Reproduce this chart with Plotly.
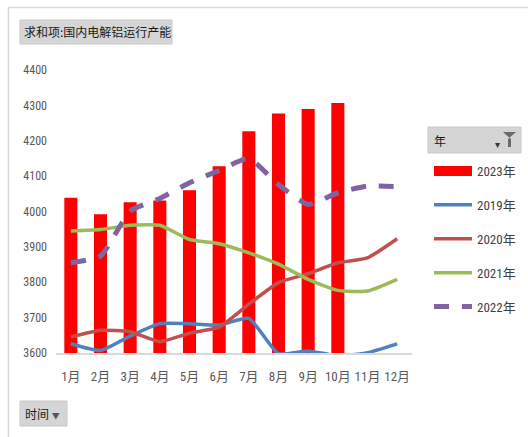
import plotly.graph_objects as go

months = ["1月", "2月", "3月", "4月", "5月", "6月", "7月", "8月", "9月", "10月", "11月", "12月"]
y2023 = [4039, 3992, 4026, 4031, 4060, 4128, 4227, 4277, 4290, 4307, None, None]
y2019 = [3626, 3607, 3648, 3683, 3683, 3679, 3698, 3598, 3606, 3592, 3601, 3626]
y2020 = [3645, 3664, 3660, 3632, 3656, 3673, 3738, 3799, 3824, 3855, 3869, 3923]
y2021 = [3945, 3949, 3961, 3961, 3921, 3909, 3883, 3851, 3808, 3777, 3775, 3808]
y2022 = [3855, 3874, 4001, 4037, 4081, 4116, 4150, 4076, 4020, 4053, 4072, 4070]
y_ticks = [3600, 3700, 3800, 3900, 4000, 4100, 4200, 4300, 4400]

W, H = 528, 437
L, R, T, B = 56, 116, 70, 84
PW, PH = W - L - R, H - T - B


def px(x):
    return (x - L) / PW


def py(y):
    return (H - B - y) / PH


num_font = "Liberation Sans Narrow, Roboto Condensed, Noto Sans CJK SC, sans-serif"
cjk_font = "Noto Sans CJK SC, sans-serif"

fig = go.Figure()
fig.add_trace(go.Bar(x=months, y=y2023, name="2023年", marker=dict(color="#ff0000", line=dict(width=0)),
                     showlegend=False, legendgroup="a"))
# legend entry for the bar series (wide red block like the original)
fig.add_trace(go.Scatter(x=[None], y=[None], name="2023年", mode="lines",
                         line=dict(color="#ff0000", width=11), legendgroup="a", legendrank=1))
fig.add_trace(go.Scatter(x=months, y=y2019, name="2019年", mode="lines",
                         line=dict(color="#4f81bd", width=3.5, shape="spline", smoothing=0.5),
                         legendgroup="b", legendrank=2))
fig.add_trace(go.Scatter(x=months, y=y2020, name="2020年", mode="lines",
                         line=dict(color="#c0504d", width=3.5, shape="spline", smoothing=0.5),
                         legendgroup="c", legendrank=3))
fig.add_trace(go.Scatter(x=months, y=y2021, name="2021年", mode="lines",
                         line=dict(color="#9bbb59", width=3.5, shape="spline", smoothing=0.5),
                         legendgroup="d", legendrank=4))
fig.add_trace(go.Scatter(x=months, y=y2022, name="2022年", mode="lines",
                         line=dict(color="#8064a2", width=5, dash="15px,13px", shape="spline", smoothing=0.5),
                         legendgroup="e", legendrank=5))

shapes = [
    # outer borders (top and left)
    dict(type="line", xref="paper", yref="paper", x0=px(8), x1=px(528), y0=py(7.5), y1=py(7.5),
         line=dict(color="#d9d9d9", width=1.5)),
    dict(type="line", xref="paper", yref="paper", x0=px(8.5), x1=px(8.5), y0=py(7), y1=py(437),
         line=dict(color="#d9d9d9", width=1.5)),
    # title button
    dict(type="rect", xref="paper", yref="paper", x0=px(20), x1=px(172), y0=py(20), y1=py(44),
         fillcolor="#d5d5d5", line=dict(color="#c8c8c8", width=1), layer="below"),
    # time button
    dict(type="rect", xref="paper", yref="paper", x0=px(20), x1=px(67), y0=py(401), y1=py(426),
         fillcolor="#d5d5d5", line=dict(color="#c8c8c8", width=1), layer="below"),
    # legend header
    dict(type="rect", xref="paper", yref="paper", x0=px(428), x1=px(521), y0=py(127), y1=py(153),
         fillcolor="#d5d5d5", line=dict(color="#c8c8c8", width=1), layer="below"),
    # funnel icon
    dict(type="path", xref="paper", yref="paper",
         path="M {0},{1} L {2},{1} L {3},{4} L {3},{5} L {6},{5} L {6},{4} Z".format(
             px(503), py(132), px(516), px(508), py(139), py(147), px(511)),
         fillcolor="#6b6b6b", line=dict(width=0)),
]

annotations = [
    dict(text="求和项:国内电解铝运行产能", xref="paper", yref="paper", x=px(22), y=py(32),
         xanchor="left", yanchor="middle", showarrow=False,
         font=dict(family=cjk_font, size=12, color="#1a1a1a")),
    dict(text="时间 <span style='font-size:8px;color:#555'>▼</span>", xref="paper", yref="paper",
         x=px(23), y=py(413.5), xanchor="left", yanchor="middle", showarrow=False,
         font=dict(family=cjk_font, size=12, color="#1a1a1a")),
    dict(text="年", xref="paper", yref="paper", x=px(432), y=py(140), xanchor="left", yanchor="middle",
         showarrow=False, font=dict(family=cjk_font, size=12, color="#1a1a1a")),
    dict(text="▾", xref="paper", yref="paper", x=px(502), y=py(143), xanchor="right", yanchor="middle",
         showarrow=False, font=dict(family=cjk_font, size=10, color="#333")),
]

fig.update_layout(
    width=W, height=H,
    margin=dict(l=L, r=R, t=T, b=B, autoexpand=False),
    paper_bgcolor="white", plot_bgcolor="white",
    bargap=0.56,
    showlegend=True,
    legend=dict(x=px(429), y=py(156), xanchor="left", yanchor="top",
                font=dict(family=num_font, size=13, color="#404040"),
                tracegroupgap=14, traceorder="grouped", itemwidth=38,
                bgcolor="rgba(0,0,0,0)"),
    xaxis=dict(type="category", categoryorder="array", categoryarray=months,
               showline=True, linecolor="#d9d9d9", linewidth=2, ticks="", showgrid=False,
               tickfont=dict(family=num_font, size=13, color="#595959"), ticklabelstandoff=10,
               fixedrange=True),
    yaxis=dict(range=[3600, 4400], tickvals=y_ticks, showgrid=False, zeroline=False, showline=False,
               tickfont=dict(family=num_font, size=12, color="#595959"), ticklabelstandoff=8,
               fixedrange=True),
    shapes=shapes,
    annotations=annotations,
)

fig.write_html("out.html")
